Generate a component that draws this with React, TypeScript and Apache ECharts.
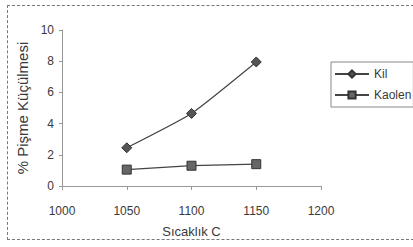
import React, { useEffect, useRef } from "react";
import * as echarts from "echarts";

const temps = [1050, 1100, 1150];
const kil = [2.45, 4.65, 7.95];
const kaolen = [1.05, 1.3, 1.4];
const xTicks = [1000, 1050, 1100, 1150, 1200];
const yTicks = [0, 2, 4, 6, 8, 10];

export default function App() {
  const ref = useRef<HTMLDivElement>(null);
  useEffect(() => {
    const chart = echarts.init(ref.current!, null, { renderer: "svg" });
    const font = "Liberation Sans";
    const col = "#3a3a3a";
    chart.setOption({
      animation: false,
      textStyle: { fontFamily: font },
      grid: { left: 62, right: 92, top: 30, bottom: 61 },
      legend: {
        orient: "vertical",
        left: 331,
        top: 62,
        itemWidth: 34,
        itemHeight: 9,
        itemGap: 9,
        padding: [6, 2, 6, 3],
        borderColor: "#888",
        borderWidth: 1,
        textStyle: { fontFamily: font, fontSize: 12, color: col },
        data: ["Kil", "Kaolen"],
      },
      xAxis: {
        type: "value",
        min: xTicks[0],
        max: xTicks[xTicks.length - 1],
        interval: 50,
        name: "Sıcaklık C",
        nameLocation: "middle",
        nameGap: 39,
        nameTextStyle: { fontFamily: font, fontSize: 13, color: col },
        axisLine: { show: true, lineStyle: { color: "#999", width: 1 } },
        axisTick: { show: true, length: 4, lineStyle: { color: "#999" } },
        axisLabel: {
          fontFamily: font,
          fontSize: 12,
          color: col,
          margin: 19,
          formatter: (v: number) => String(v),
        },
        splitLine: { show: false },
      },
      yAxis: {
        type: "value",
        min: yTicks[0],
        max: yTicks[yTicks.length - 1],
        interval: 2,
        name: "% Pişme Küçülmesi",
        nameLocation: "middle",
        nameGap: 31,
        nameTextStyle: { fontFamily: font, fontSize: 15, color: col },
        axisLine: { show: true, lineStyle: { color: "#999", width: 1 } },
        axisTick: { show: true, length: 3, lineStyle: { color: "#999" } },
        axisLabel: { fontFamily: font, fontSize: 12, color: col, margin: 8 },
        splitLine: { show: false },
      },
      series: [
        {
          name: "Kil",
          type: "line",
          smooth: 0.15,
          data: temps.map((t, i) => [t, kil[i]]),
          symbol: "diamond",
          symbolSize: 10,
          lineStyle: { color: "#444", width: 1.2 },
          itemStyle: { color: "#555", borderColor: "#333", borderWidth: 1 },
        },
        {
          name: "Kaolen",
          type: "line",
          data: temps.map((t, i) => [t, kaolen[i]]),
          symbol: "rect",
          symbolSize: 9,
          lineStyle: { color: "#444", width: 1.2 },
          itemStyle: { color: "#666", borderColor: "#333", borderWidth: 1 },
        },
      ],
    });
    return () => chart.dispose();
  }, []);
  return (
    <div style={{ position: "fixed", left: 0, top: 0, width: 413, height: 247, background: "#fff" }}>
      <div
        style={{
          position: "absolute",
          left: 7,
          top: 5,
          width: 405,
          height: 233,
          border: "1px dashed #777",
          boxSizing: "content-box",
        }}
      />
      <div ref={ref} style={{ position: "absolute", left: 0, top: 0, width: 413, height: 247 }} />
    </div>
  );
}
